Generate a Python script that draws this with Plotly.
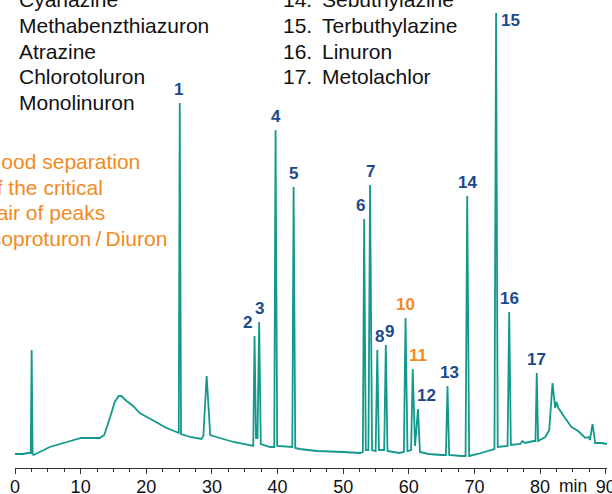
import plotly.graph_objects as go

# ---------------- data ----------------
# chromatogram trace: retention time (min) and detector signal (arbitrary units)
trace_time = [
    0.0, 1.2, 2.0, 2.4, 2.54, 2.68, 2.85, 4.0, 5.3, 7.9, 9.5, 10.1, 12.9, 13.6,
    14.5, 15.2, 15.8, 16.2, 17.0, 18.0, 19.0, 20.1, 21.6, 23.1, 24.6, 24.95,
    25.1, 25.3, 26.7, 28.4, 28.7, 29.2, 29.75, 30.2, 31.2, 33.3, 35.3, 36.3,
    36.5, 36.72, 36.95, 37.2, 37.45, 38.9, 39.5, 39.7, 39.95, 41.9, 42.25,
    42.45, 42.7, 43.4, 46.0, 50.0, 52.6, 53.0, 53.2, 53.45, 53.85, 54.1, 54.4,
    54.95, 55.2, 55.45, 56.25, 56.5, 56.75, 58.5, 59.25, 59.5, 59.8, 60.35,
    60.6, 60.95, 61.4, 61.7, 63.0, 65.0, 65.65, 65.9, 66.15, 68.0, 68.65,
    68.9, 69.2, 70.5, 72.5, 73.05, 73.3, 73.55, 75.05, 75.3, 75.55, 77.0,
    77.3, 77.7, 79.0, 79.3, 79.5, 79.7, 80.8, 81.4, 81.9, 82.3, 82.5, 82.8,
    83.8, 84.8, 85.8, 86.9, 87.4, 87.6, 88.0, 88.4, 89.4, 90.2,
]
trace_signal = [
    14, 14, 15, 15, 118, 14, 13, 17, 21, 26, 29, 30, 30, 33,
    51, 66, 72, 72, 67, 62, 55, 51, 46, 40, 36, 35,
    365, 34, 31, 29, 32, 92, 33, 32, 30, 26, 23, 22,
    132, 30, 30, 146, 24, 21, 21, 338, 22, 21, 21,
    281, 20, 19, 17, 16, 15, 16, 249, 18, 18, 283, 18,
    17, 118, 18, 18, 123, 17, 15, 16, 150, 17, 18,
    99, 22, 59, 16, 14, 13, 13, 82, 13, 12, 12,
    272, 12, 14, 18, 19, 455, 21, 22, 156, 23, 24,
    27, 25, 27, 27, 95, 27, 31, 38, 85, 60, 66, 60,
    50, 41, 37, 30, 31, 28, 44, 25, 25, 24,
]

# numbered peaks
peak_names = [str(i) for i in range(1, 18)]
peak_times = [25.1, 36.5, 37.2, 39.7, 42.45, 53.2, 54.1, 55.2, 56.5, 59.5,
              60.6, 61.4, 65.9, 68.9, 73.3, 75.3, 79.5]
peak_heights = [365, 132, 146, 338, 281, 249, 283, 118, 123, 150,
                99, 59, 82, 272, 455, 156, 95]
critical_pair = ["10", "11"]

# compound list (visible part)
list_col1 = ["Cyanazine", "Methabenzthiazuron", "Atrazine", "Chlorotoluron", "Monolinuron"]
list_col2_num = ["14.", "15.", "16.", "17."]
list_col2_name = ["Sebuthylazine", "Terbuthylazine", "Linuron", "Metolachlor"]
note_lines = ["Good separation", "of the critical", "pair of peaks", "Isoproturon\u2009/\u2009Diuron"]

x_ticks = [0, 10, 20, 30, 40, 50, 60, 70, 80, 90]

# ---------------- styling / layout ----------------
TEAL = "#12998c"
BLUE = "#1b4a8c"
ORANGE = "#f28a1e"
FONT = "Liberation Sans, Arial, Helvetica, sans-serif"
TXT = 21

W, H = 612, 494
ML, MR, MT, MB = 15, 5, 0, 26
PW, PH = W - ML - MR, H - MT - MB


def px(x):
    return (x - ML) / PW


def py(y):
    return 1 - (y - MT) / PH


fig = go.Figure()
fig.add_trace(go.Scatter(
    x=trace_time, y=trace_signal, mode="lines",
    line=dict(color=TEAL, width=1.8), hoverinfo="skip", showlegend=False,
))

annotations = []
label_dx = {"1": -1.5, "2": -7, "3": 0, "6": -4, "8": 2, "9": 4, "11": 5,
            "12": 9, "13": 2, "15": 14}
label_dy = {"15": -7}
for name, t, h in zip(peak_names, peak_times, peak_heights):
    annotations.append(dict(
        x=t, y=h, xref="x", yref="y", text=name, showarrow=False,
        xanchor="center", yanchor="middle",
        xshift=label_dx.get(name, 0), yshift=label_dy.get(name, 14),
        font=dict(family=FONT, size=17, color=ORANGE if name in critical_pair else BLUE, weight="bold"),
    ))

row_y = [-1, 25, 51, 77, 102]
for txt, yy in zip(list_col1, row_y):
    annotations.append(dict(x=px(17), y=py(yy), xref="paper", yref="paper", text=txt,
                            showarrow=False, xanchor="left", yanchor="middle",
                            font=dict(family=FONT, size=TXT, color="#111111")))
for num, name, yy in zip(list_col2_num, list_col2_name, row_y):
    annotations.append(dict(x=px(314), y=py(yy), xref="paper", yref="paper", text=num,
                            showarrow=False, xanchor="right", yanchor="middle",
                            font=dict(family=FONT, size=TXT, color="#111111")))
    annotations.append(dict(x=px(320), y=py(yy), xref="paper", yref="paper", text=name,
                            showarrow=False, xanchor="left", yanchor="middle",
                            font=dict(family=FONT, size=TXT, color="#111111")))

for txt, yy in zip(note_lines, [161, 187, 213, 238.5]):
    annotations.append(dict(x=px(-17), y=py(yy), xref="paper", yref="paper", text=txt,
                            showarrow=False, xanchor="left", yanchor="middle",
                            font=dict(family=FONT, size=TXT, color=ORANGE)))

annotations.append(dict(x=px(573), y=py(486), xref="paper", yref="paper", text="min",
                        showarrow=False, xanchor="center", yanchor="middle",
                        font=dict(family=FONT, size=17.5, color="#111111")))

fig.update_layout(
    width=W, height=H,
    margin=dict(l=ML, r=MR, t=MT, b=MB, autoexpand=False),
    paper_bgcolor="white", plot_bgcolor="white",
    showlegend=False,
    annotations=annotations,
    xaxis=dict(
        range=[0, 90.2], showgrid=False, zeroline=False, automargin=False,
        showline=True, linecolor="#333333", linewidth=1,
        ticks="outside", ticklen=5, tickwidth=1, tickcolor="#333333",
        tickvals=x_ticks, ticktext=[str(v) for v in x_ticks],
        tickfont=dict(family=FONT, size=18, color="#111111"),
        ticklabeloverflow="allow", ticklabelstandoff=-3,
        minor=dict(dtick=2.5, ticks="outside", ticklen=3, tickwidth=1, tickcolor="#333333", showgrid=False),
        fixedrange=True,
    ),
    yaxis=dict(visible=False, range=[0, PH], fixedrange=True, automargin=False),
)

# the page body has a default 8px margin; remove it so the 612x494 figure fills the window
fig.write_html("out.html", config={"displayModeBar": False},
               post_script="document.body.style.margin='0';")
